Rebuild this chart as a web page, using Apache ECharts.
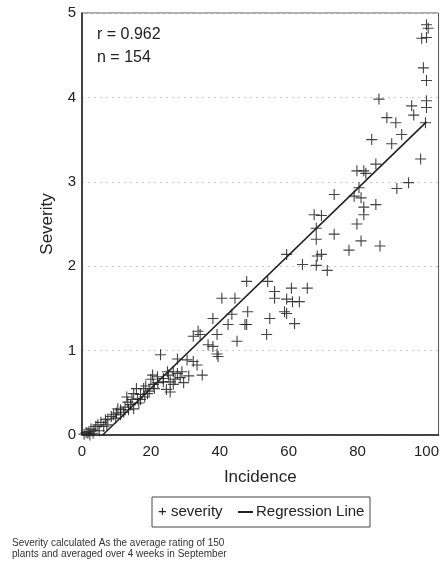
<!DOCTYPE html>
<html>
<head>
<meta charset="utf-8">
<script src="https://cdn.jsdelivr.net/npm/echarts@6/dist/echarts.min.js"></script>
<style>
html,body{margin:0;padding:0;background:#fff;}
#chart{width:442px;height:571px;}
</style>
</head>
<body>
<div id="chart"></div>
<script>
// ---- data ----
var incidence = [
100.0,100.5,98.6,100.0,99.1,100.0,100.0,100.0,95.7,96.3,
86.2,88.5,91.1,99.7,92.8,84.1,89.9,98.3,85.3,79.8,
81.8,82.4,94.8,91.4,80.4,73.2,79.0,81.0,81.8,85.3,
67.4,69.5,81.8,79.8,68.0,73.2,68.0,81.0,77.5,86.5,
59.4,64.0,68.3,69.5,68.0,71.2,47.8,53.9,55.9,55.9,
60.8,65.4,59.4,61.1,63.1,58.8,59.4,61.7,54.5,53.6,
48.1,47.8,45.0,40.6,44.4,43.5,42.4,38.0,39.2,33.7,
34.3,32.3,36.6,38.0,39.2,39.5,32.3,33.4,34.9,22.8,
27.7,30.5,20.5,21.9,23.6,25.1,26.5,24.8,23.6,20.7,
25.6,26.5,17.9,17.0,19.0,15.0,16.1,13.3,14.1,10.4,
11.2,12.1,9.2,11.2,7.5,5.5,4.6,6.3,2.6,2.0,
3.2,1.7,0.6,17.0,13.5,15.0,24.5,25.6,47.3,27.7,
18.5,28.5,29.5,19.5,14.5,12.5,8.5,6.8,4.0,3.5,
1.2,22.0,21.0,16.5,10.0,9.8,27.0,29.0,31.0,18.2,
2.3,5.0,7.2,13.0,15.8,20.0
];
var severity = [
4.86,4.82,4.70,4.71,4.35,4.20,3.96,3.88,3.90,3.79,
3.98,3.76,3.70,3.70,3.56,3.50,3.45,3.27,3.21,3.13,
3.13,3.10,2.99,2.92,2.93,2.85,2.83,2.81,2.70,2.73,
2.61,2.60,2.61,2.50,2.45,2.38,2.32,2.30,2.19,2.24,
2.14,2.02,2.12,2.14,2.01,1.95,1.82,1.82,1.70,1.62,
1.74,1.74,1.61,1.58,1.58,1.46,1.44,1.32,1.38,1.19,
1.46,1.31,1.11,1.62,1.62,1.43,1.31,1.38,1.19,1.23,
1.19,1.17,1.07,1.05,0.96,0.93,0.87,0.83,0.71,0.95,
0.90,0.89,0.71,0.69,0.67,0.71,0.75,0.75,0.63,0.60,
0.63,0.60,0.55,0.48,0.49,0.49,0.43,0.39,0.36,0.31,
0.30,0.27,0.24,0.24,0.19,0.15,0.12,0.10,0.07,0.04,
0.02,0.02,0.01,0.42,0.30,0.31,0.54,0.51,1.31,0.73,
0.58,0.68,0.62,0.52,0.42,0.33,0.22,0.18,0.10,0.05,
0.03,0.62,0.55,0.38,0.26,0.20,0.66,0.75,0.70,0.45,
0.00,0.05,0.12,0.45,0.55,0.66
];
var regressionX = [6, 100];
var regressionY = [0, 3.71];
var xTicks = [0, 20, 40, 60, 80, 100];
var yTicks = [0, 1, 2, 3, 4, 5];
var statsLines = ['r = 0.962', 'n = 154'];
var footnoteLines = ['Severity calculated As the average rating of 150', 'plants and averaged over 4 weeks in September'];
var legendNames = ['severity', 'Regression Line'];

var scatterData = incidence.map(function (x, i) { return [x, severity[i]]; });
var lineData = regressionX.map(function (x, i) { return [x, regressionY[i]]; });

var FONT = '"Liberation Sans", Arial, sans-serif';
var plusPath = 'path://M4.5,0h1v4.5h4.5v1h-4.5v4.5h-1v-4.5h-4.5v-1h4.5z';

var chart = echarts.init(document.getElementById('chart'), null, {renderer: 'canvas'});
chart.setOption({
  animation: false,
  backgroundColor: '#fff',
  textStyle: {fontFamily: FONT},
  grid: {left: 82, top: 13, right: 2, bottom: 136, show: true, borderColor: '#555', borderWidth: 1},
  xAxis: {
    type: 'value', min: 0, max: 103.5, interval: 20,
    name: 'Incidence', nameLocation: 'middle', nameGap: 34,
    nameTextStyle: {fontSize: 17, color: '#222', fontFamily: FONT},
    axisLine: {show: true, lineStyle: {color: '#222', width: 1.5}},
    axisTick: {show: false},
    splitLine: {show: false},
    axisLabel: {fontSize: 15, color: '#222', margin: 9, fontFamily: FONT,
      formatter: function (v) { return xTicks.indexOf(v) >= 0 ? String(v) : ''; }}
  },
  yAxis: {
    type: 'value', min: 0, max: 5, interval: 1,
    name: 'Severity', nameLocation: 'middle', nameGap: 26,
    nameTextStyle: {fontSize: 17, color: '#222', fontFamily: FONT},
    axisLine: {show: true, lineStyle: {color: '#222', width: 1.5}},
    axisTick: {show: false},
    splitLine: {show: true, lineStyle: {color: '#c8c8c8', type: [2, 4], width: 1}},
    axisLabel: {fontSize: 15, color: '#222', margin: 6, fontFamily: FONT,
      formatter: function (v) { return yTicks.indexOf(v) >= 0 ? String(v) : ''; }}
  },
  series: [
    {
      name: legendNames[0], type: 'scatter', data: scatterData,
      symbol: plusPath, symbolSize: 11,
      itemStyle: {color: '#222', opacity: 0.85}
    },
    {
      name: legendNames[1], type: 'line', data: lineData,
      symbol: 'none', lineStyle: {color: '#222', width: 1.6}
    }
  ],
  graphic: [
    {type: 'text', left: 97, top: 27, style: {text: statsLines[0], font: '16px ' + FONT, fill: '#222'}},
    {type: 'text', left: 97, top: 50, style: {text: statsLines[1], font: '16px ' + FONT, fill: '#222'}},
    {type: 'rect', shape: {x: 152, y: 497, width: 218, height: 30}, style: {fill: 'none', stroke: '#444', lineWidth: 1}},
    {type: 'text', x: 158, y: 512, style: {text: '+ ' + legendNames[0], font: '15px ' + FONT, fill: '#222', verticalAlign: 'middle'}},
    {type: 'line', shape: {x1: 238, y1: 512, x2: 253, y2: 512}, style: {stroke: '#222', lineWidth: 2}},
    {type: 'text', x: 256, y: 512, style: {text: legendNames[1], font: '15px ' + FONT, fill: '#222', verticalAlign: 'middle'}},
    {type: 'text', x: 12, y: 543, style: {text: footnoteLines[0], font: '10px ' + FONT, fill: '#333', verticalAlign: 'middle'}},
    {type: 'text', x: 12, y: 554, style: {text: footnoteLines[1], font: '10px ' + FONT, fill: '#333', verticalAlign: 'middle'}}
  ]
});
</script>
</body>
</html>
